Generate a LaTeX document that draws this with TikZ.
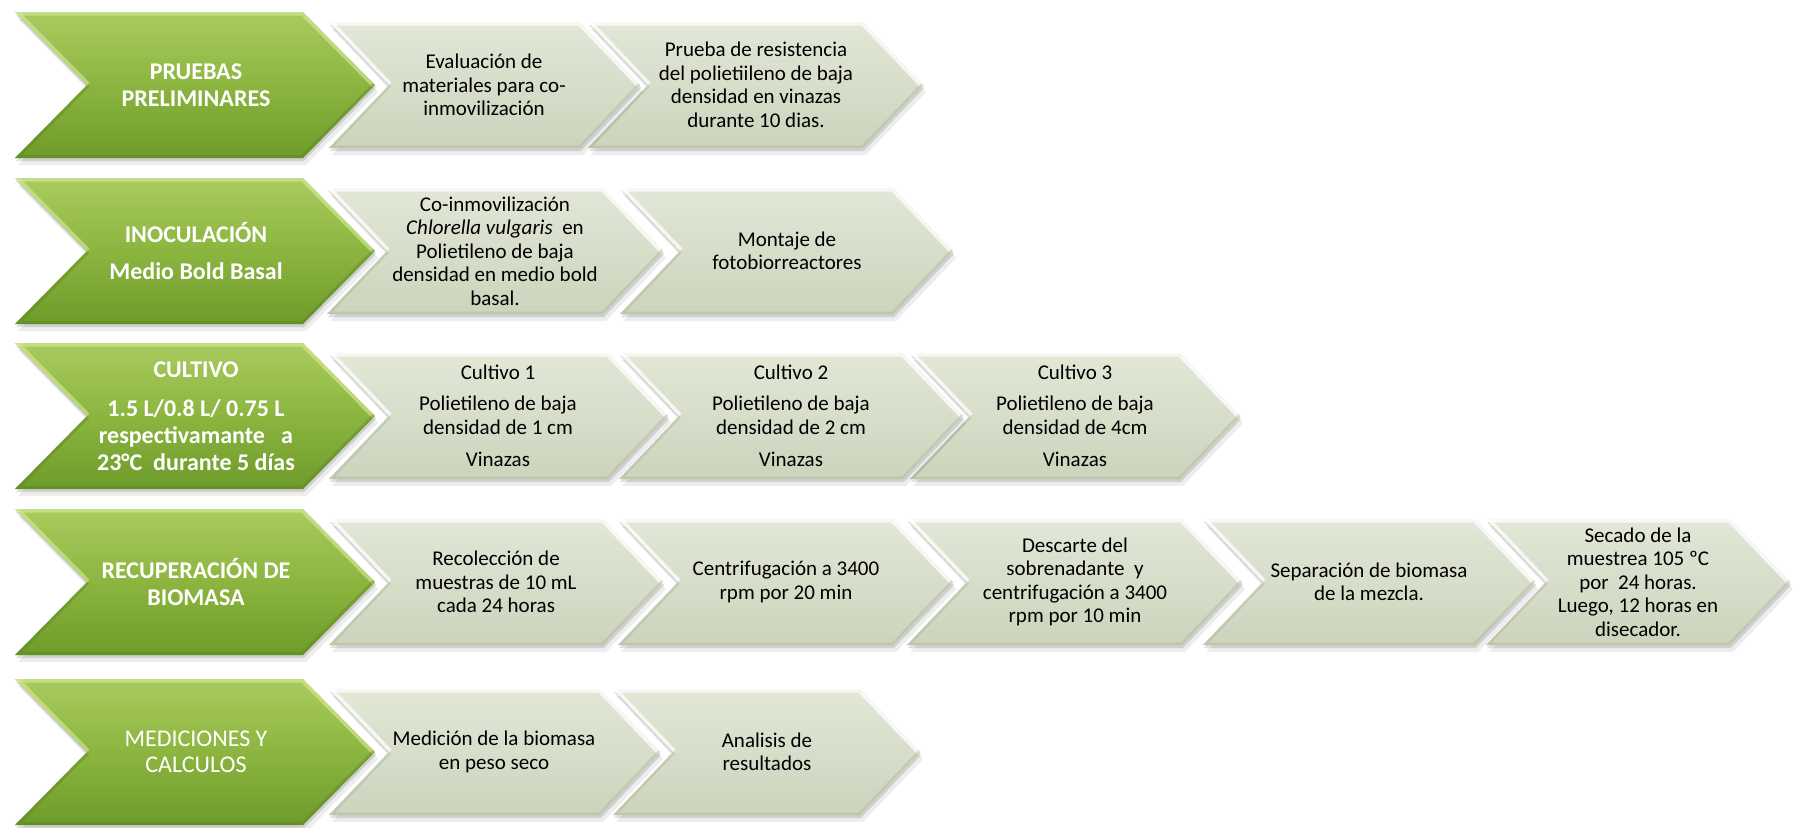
\documentclass[tikz,border=0pt]{standalone}
\usepackage{fontspec}
\setmainfont{Carlito}
\definecolor{gtop}{HTML}{A9CB5E}
\definecolor{gmid}{HTML}{8CB540}
\definecolor{gbot}{HTML}{6E9B2A}
\definecolor{glightc}{HTML}{D6EB9E}
\definecolor{gdarkc}{HTML}{567F1E}
\definecolor{wtop}{HTML}{E2E7D7}
\definecolor{wbot}{HTML}{CCD4BC}
\definecolor{wdarkc}{HTML}{AEB89C}
\newcommand{\chvp}[5]{({#1},{(#3)-(#4)}) -- ({(#2)-(#5)},{(#3)-(#4)}) -- ({#2},{#3}) -- ({(#2)-(#5)},{(#3)+(#4)}) -- ({#1},{(#3)+(#4)}) -- ({(#1)+(#5)},{#3}) -- cycle}
\newcommand{\mychev}[6]{%
  \fill[black,opacity=0.07] \chvp{#2+3}{#3+3}{#4+7}{#5}{#6};
  \fill[black,opacity=0.12] \chvp{#2+1}{#3+1}{#4+3}{#5}{#6};
  \shade[#1body] \chvp{#2}{#3}{#4}{#5}{#6};
  \begin{scope}
    \clip \chvp{#2}{#3}{#4}{#5}{#6};
    \draw[#1light] ({#2},{#4-#5}) -- ({#3-#6},{#4-#5}) -- ({#3},{#4});
    \draw[#1light] ({#2},{#4-#5}) -- ({#2+#6},{#4});
    \draw[#1dark] ({#2+#6},{#4}) -- ({#2},{#4+#5}) -- ({#3-#6},{#4+#5}) -- ({#3},{#4});
  \end{scope}
}
\tikzset{
  gbody/.style={top color=gtop, bottom color=gbot, middle color=gmid},
  glight/.style={line width=7pt, draw=glightc, opacity=0.6, line join=round},
  gdark/.style={line width=6pt, draw=gdarkc, opacity=0.35, line join=round},
  wbody/.style={top color=wtop, bottom color=wbot},
  wlight/.style={line width=7pt, draw=white, opacity=0.75, line join=round},
  wdark/.style={line width=5pt, draw=wdarkc, opacity=0.45, line join=round},
  gtxt/.style={text=white, font=\fontsize{24}{26.5}\selectfont\bfseries, align=center, inner sep=0pt},
  gtxtn/.style={text=white, font=\fontsize{24}{26.5}\selectfont, align=center, inner sep=0pt},
  wtxt/.style={text=black, font=\fontsize{21}{23.5}\selectfont, align=center, inner sep=0pt}
}
\begin{document}
\begin{tikzpicture}[x=1pt,y=-1pt]
\fill[white] (0,0) rectangle (1793,827);
\useasboundingbox (0,0) rectangle (1793,827);
% Row 1
\mychev{w}{588}{923}{85}{63}{60}
\mychev{w}{329}{640}{85}{63}{60}
\mychev{g}{15}{375}{85}{73}{72}
% Row 2
\mychev{w}{620}{953}{251}{63}{60}
\mychev{w}{327}{663}{251}{63}{60}
\mychev{g}{15}{375}{251}{73}{72}
% Row 3
\mychev{w}{910}{1240}{416}{63}{60}
\mychev{w}{619}{963}{416}{63}{60}
\mychev{w}{329}{668}{416}{63}{60}
\mychev{g}{15}{375}{416}{73}{72}
% Row 4
\mychev{w}{1486}{1790}{582}{63}{60}
\mychev{w}{1203}{1535}{582}{63}{60}
\mychev{w}{907}{1242}{582}{63}{60}
\mychev{w}{618}{953}{582}{63}{60}
\mychev{w}{329}{663}{582}{63}{60}
\mychev{g}{15}{375}{582}{73}{72}
% Row 5
\mychev{w}{613}{920}{752}{63}{60}
\mychev{w}{329}{660}{752}{63}{60}
\mychev{g}{15}{375}{752}{73}{72}
% Texts row 1
\node[gtxt] (g1) at (196,85) {PRUEBAS\\PRELIMINARES};
\node[wtxt] (t11) at (484,85) {Evaluación de\\materiales para co-\\inmovilización};
\node[wtxt] (t12) at (756,85) {Prueba de resistencia\\del polietiileno de baja\\densidad en vinazas\\durante 10 dias.};
% Texts row 2
\node[gtxt] (g2) at (196,251) {INOCULACIÓN\\[10pt]Medio Bold Basal};
\node[wtxt] (t21) at (495,251) {Co-inmovilización\\\textit{Chlorella vulgaris}\ \ en\\Polietileno de baja\\densidad en medio bold\\basal.};
\node[wtxt] (t22) at (787,251) {Montaje de\\fotobiorreactores};
% Texts row 3
\node[gtxt] (g3) at (196,416) {CULTIVO\\[12pt]1.5 L/0.8 L/ 0.75 L\\[1pt]respectivamante\ \ \ a\\23°C\ \ durante 5 días};
\node[wtxt] (t31) at (498,416) {Cultivo 1\\[7pt]Polietileno de baja\\[1pt]densidad de 1 cm\\[8pt]Vinazas};
\node[wtxt] (t32) at (791,416) {Cultivo 2\\[7pt]Polietileno de baja\\[1pt]densidad de 2 cm\\[8pt]Vinazas};
\node[wtxt] (t33) at (1075,416) {Cultivo 3\\[7pt]Polietileno de baja\\[1pt]densidad de 4cm\\[8pt]Vinazas};
% Texts row 4
\node[gtxt] (g4) at (196,582) {RECUPERACIÓN DE\\BIOMASA};
\node[wtxt] (t41) at (496,582) {Recolección de\\muestras de 10 mL\\cada 24 horas};
\node[wtxt] (t42) at (786,582) {Centrifugación a 3400\\rpm por 20 min};
\node[wtxt] (t43) at (1075,582) {Descarte del\\sobrenadante\ \ y\\centrifugación a 3400\\rpm por 10 min};
\node[wtxt] (t44) at (1369,582) {Separación de biomasa\\de la mezcla.};
\node[wtxt] (t45) at (1638,582) {Secado de la\\muestrea 105 ºC\\por\ \ 24 horas.\\Luego, 12 horas en\\disecador.};
% Texts row 5
\node[gtxtn] (g5) at (196,752) {MEDICIONES Y\\CALCULOS};
\node[wtxt] (t51) at (494,752) {Medición de la biomasa\\en peso seco};
\node[wtxt] (t52) at (767,752) {Analisis de\\resultados};
\end{tikzpicture}
\end{document}
